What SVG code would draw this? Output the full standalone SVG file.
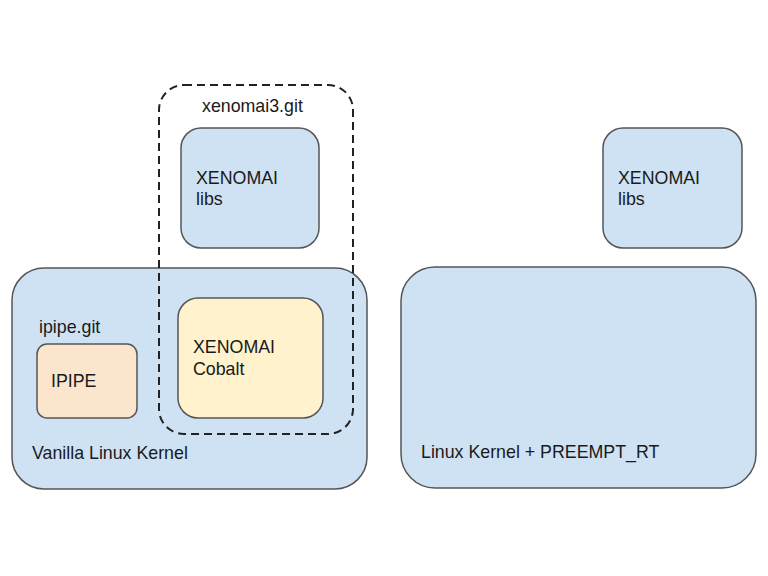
<svg xmlns="http://www.w3.org/2000/svg" width="768" height="576" viewBox="0 0 768 576">
<style>
.box{stroke:#555;stroke-width:1.5}
.blue{fill:#cfe2f3}
.orange{fill:#fce5cd}
.yellow{fill:#fff2cc}
text{font-family:"Liberation Sans",Arial,sans-serif;font-size:17.8px;fill:#1a1a1a}
.dash{fill:none;stroke:#222;stroke-width:2;stroke-dasharray:8,5}
</style>
<rect width="768" height="576" fill="#fff"/>
<g id="vanilla-kernel">
<rect class="box blue" x="12" y="268" width="355" height="221" rx="32"/>
<text x="32" y="459">Vanilla Linux Kernel</text>
<text x="39" y="333">ipipe.git</text>
</g>
<g id="ipipe">
<rect class="box orange" x="37" y="344" width="100" height="74" rx="10"/>
<text x="51" y="387">IPIPE</text>
</g>
<g id="cobalt">
<rect class="box yellow" x="178" y="298" width="145" height="120" rx="20"/>
<text x="193" y="353">XENOMAI</text>
<text x="193" y="375">Cobalt</text>
</g>
<g id="libs-left">
<rect class="box blue" x="181" y="128" width="138" height="120" rx="20"/>
<text x="196" y="184">XENOMAI</text>
<text x="196" y="205">libs</text>
</g>
<g id="xenomai3-git">
<rect class="dash" x="159" y="85" width="194" height="349" rx="25"/>
<text x="202" y="112">xenomai3.git</text>
</g>
<g id="libs-right">
<rect class="box blue" x="603" y="128" width="139" height="120" rx="20"/>
<text x="618" y="184">XENOMAI</text>
<text x="618" y="205">libs</text>
</g>
<g id="preempt-kernel">
<rect class="box blue" x="401" y="267" width="355" height="221" rx="34"/>
<text x="421" y="458">Linux Kernel + PREEMPT_RT</text>
</g>
<g id="connectors"></g>
</svg>
